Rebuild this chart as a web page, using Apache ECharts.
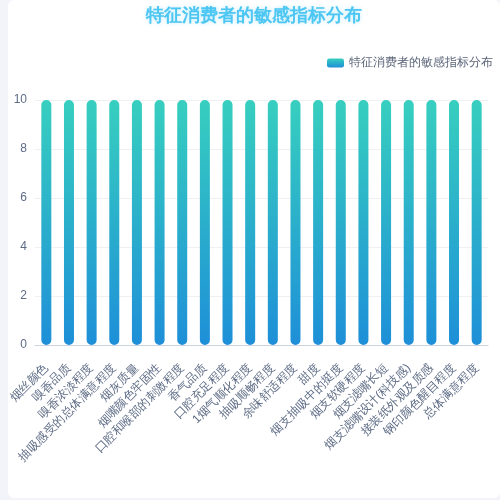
<!DOCTYPE html>
<html>
<head>
<meta charset="utf-8">
<script src="https://cdn.jsdelivr.net/npm/echarts@6/dist/echarts.min.js"></script>
<style>
  html, body { margin: 0; padding: 0; background: #f3f4f9; }
  #card { position: absolute; left: 8px; top: 0; width: 492px; height: 498px; background: #fff; border-radius: 6px; }
  #chart { width: 492px; height: 498px; }
</style>
</head>
<body>
<div id="card"><div id="chart"></div></div>
<script>
const title = '特征消费者的敏感指标分布'
const categories = [
  '烟丝颜色', '嗅香品质', '嗅香浓淡程度', '抽吸感受的总体满意程度', '烟灰质量',
  '烟嘴颜色牢固性', '口腔和喉部的刺激程度', '香气品质', '口腔充足程度', '1烟气顺化程度',
  '抽吸顺畅程度', '余味舒适程度', '甜度', '烟支抽吸中的挺度', '烟支软硬程度',
  '烟支滤嘴长短', '烟支滤嘴设计(科技感)', '接装纸外观及质感', '钢印颜色醒目程度', '总体满意程度'
]
const values = [10, 10, 10, 10, 10, 10, 10, 10, 10, 10, 10, 10, 10, 10, 10, 10, 10, 10, 10, 10]

const chart = echarts.init(document.getElementById('chart'))

const barColor = new echarts.graphic.LinearGradient(0, 0, 0, 1, [
  { offset: 0, color: '#37cfbf' },
  { offset: 1, color: '#1e8fd8' }
])

chart.setOption({
  title: {
    text: title,
    left: 'center',
    top: 2,
    textStyle: {
      color: '#4cc6f2',
      fontSize: 18,
      fontWeight: 'bold',
      textShadowColor: 'rgba(76,198,242,0.35)',
      textShadowBlur: 4
    }
  },
  legend: {
    right: 2,
    top: 52,
    itemWidth: 17,
    itemHeight: 9,
    icon: 'roundRect',
    textStyle: { color: '#5a6478', fontSize: 12 }
  },
  grid: { left: 27, right: 12, top: 100, bottom: 153, containLabel: false, outerBoundsMode: 'none' },
  xAxis: {
    type: 'category',
    data: categories,
    axisTick: { show: false },
    axisLine: { lineStyle: { color: '#ccd3de' } },
    axisLabel: { interval: 0, rotate: 45, color: '#5d6b85', fontSize: 12, margin: 21 }
  },
  yAxis: {
    type: 'value',
    min: 0,
    max: 10,
    interval: 2,
    axisLabel: { color: '#5d6b85', fontSize: 12 },
    splitLine: { lineStyle: { color: '#eef0f3' } }
  },
  series: [{
    name: title,
    type: 'bar',
    data: values,
    barWidth: 10,
    itemStyle: { color: barColor, borderRadius: 5 }
  }]
})
</script>
</body>
</html>
